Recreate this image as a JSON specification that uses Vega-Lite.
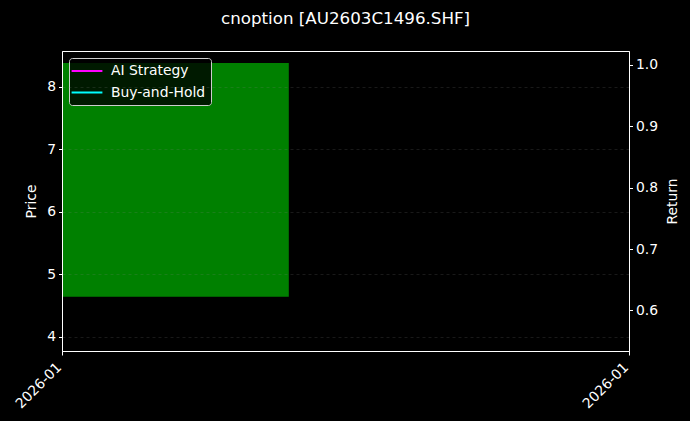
{
  "$schema": "https://vega.github.io/schema/vega-lite/v6.json",
  "width": 567,
  "height": 300,
  "autosize": "none",
  "padding": {"left": 62, "top": 51, "right": 61, "bottom": 70},
  "background": "#000000",
  "title": {
    "text": "cnoption [AU2603C1496.SHF]",
    "color": "#ffffff",
    "font": "DejaVu Sans",
    "fontSize": 16.7,
    "fontWeight": "normal",
    "anchor": "middle",
    "frame": "group",
    "baseline": "alphabetic",
    "offset": 10
  },
  "config": {
    "font": "DejaVu Sans",
    "view": {"stroke": "#ffffff", "strokeWidth": 1},
    "axis": {
      "domainColor": "#ffffff",
      "tickColor": "#ffffff",
      "tickSize": 3.5,
      "labelColor": "#ffffff",
      "labelFontSize": 13.9,
      "titleColor": "#ffffff",
      "titleFontSize": 13.9,
      "titleFontWeight": "normal",
      "gridColor": "#808080",
      "gridOpacity": 0.32,
      "gridDash": [3, 3],
      "gridWidth": 0.6
    }
  },
  "datasets": {
    "candles": [
      {"start": "2026-01-05T00:00:00", "end": "2026-01-05T19:12:00", "open": 4.635, "close": 8.379}
    ],
    "returns": [
      {"date": "2026-01-05T09:36:00", "series": "AI Strategy", "value": 1.0},
      {"date": "2026-01-05T09:36:00", "series": "Buy-and-Hold", "value": 1.0}
    ]
  },
  "layer": [
    {
      "data": {"name": "candles"},
      "mark": {"type": "rect", "color": "#008000"},
      "encoding": {
        "x": {
          "field": "start",
          "type": "temporal",
          "scale": {"domain": [{"year": 2026, "month": 1, "date": 5}, {"year": 2026, "month": 1, "date": 7}], "nice": false},
          "axis": {
            "title": null,
            "grid": false,
            "values": [{"year": 2026, "month": 1, "date": 5}, {"year": 2026, "month": 1, "date": 7}],
            "format": "%Y-%m",
            "labelAngle": -45,
            "labelAlign": "right",
            "labelBaseline": "top",
            "labelPadding": 5,
            "labelOffset": -8,
            "tickSize": 4,
            "labelFlush": false,
            "labelOverlap": false
          }
        },
        "x2": {"field": "end"},
        "y": {
          "field": "open",
          "type": "quantitative",
          "scale": {"domain": [3.768, 8.571], "nice": false, "zero": false},
          "axis": {
            "title": "Price",
            "orient": "left",
            "values": [4, 5, 6, 7, 8],
            "labelPadding": 3,
            "titlePadding": 8,
            "zindex": 1
          }
        },
        "y2": {"field": "close"}
      }
    },
    {
      "data": {"name": "returns"},
      "mark": {"type": "line", "strokeWidth": 2},
      "encoding": {
        "x": {"field": "date", "type": "temporal"},
        "y": {
          "field": "value",
          "type": "quantitative",
          "scale": {"domain": [0.534, 1.0223], "nice": false, "zero": false},
          "axis": {
            "title": "Return",
            "orient": "right",
            "values": [0.6, 0.7, 0.8, 0.9, 1.0],
            "format": ".1f",
            "labelPadding": 3,
            "titlePadding": 8,
            "titleAngle": 270,
            "titleBaseline": "top",
            "zindex": 1
          }
        },
        "color": {
          "field": "series",
          "type": "nominal",
          "scale": {"domain": ["AI Strategy", "Buy-and-Hold"], "range": ["#ff00ff", "#00ffff"]},
          "legend": {
            "title": null,
            "orient": "top-left",
            "offset": 6.5,
            "fillColor": "rgba(0,0,0,0.8)",
            "strokeColor": "#cccccc",
            "cornerRadius": 3,
            "padding": 5,
            "symbolType": "M-2.2,0L2.2,0",
            "symbolSize": 196,
            "symbolStrokeWidth": 2,
            "symbolOffset": 5,
            "labelOffset": 16,
            "rowPadding": 6.5,
            "labelFontSize": 13.9,
            "labelColor": "#ffffff"
          }
        }
      }
    }
  ],
  "resolve": {"scale": {"y": "independent"}}
}
